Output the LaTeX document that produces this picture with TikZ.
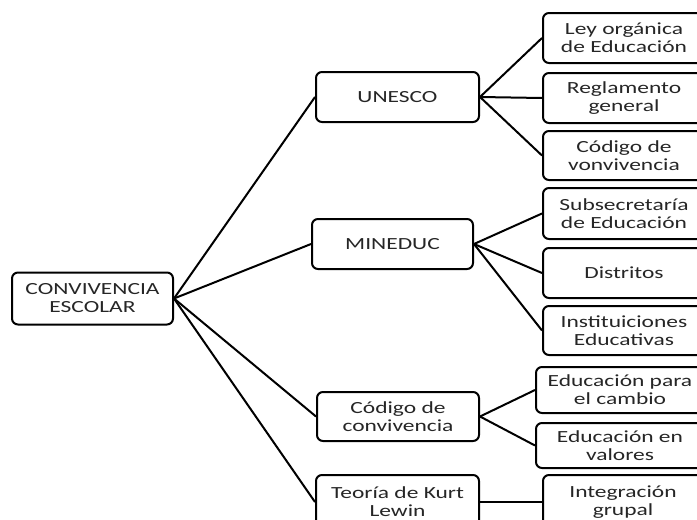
\documentclass[tikz,border=0pt]{standalone}
\usepackage{fontspec}
\setmainfont[FakeStretch=1.38]{Carlito}
\begin{document}
\begin{tikzpicture}[x=1pt,y=-1pt,
  box/.style={draw=black, line width=2pt, rounded corners=6pt, fill=white,
    inner sep=0pt, align=center, text=black!85,
    font=\fontsize{17}{18}\selectfont},
  conn/.style={draw=black, line width=2pt}]
\useasboundingbox (0,0) rectangle (697,520);
\clip (0,0) rectangle (697,520);
\fill[white] (0,0) rectangle (697,520);
% level 1
\node[box, minimum width=161pt, minimum height=52pt] (root) at (92.5,298.5) {CONVIVENCIA\\ESCOLAR};
% level 2
\node[box, minimum width=163pt, minimum height=50pt] (unesco) at (397.5,97) {UNESCO};
\node[box, minimum width=161pt, minimum height=50pt] (mineduc) at (392.5,244) {MINEDUC};
\node[box, minimum width=162pt, minimum height=49pt] (codigo) at (398,416.5) {Código de\\convivencia};
\node[box, minimum width=163pt, minimum height=54pt] (teoria) at (397.5,502) {Teoría de Kurt\\Lewin};
% level 3
\node[box, minimum width=162pt, minimum height=50pt] (ley) at (624,38) {Ley orgánica\\de Educación};
\node[box, minimum width=162pt, minimum height=50pt] (regl) at (624,98) {Reglamento\\general};
\node[box, minimum width=162pt, minimum height=49pt] (codv) at (624,155.5) {Código de\\vonvivencia};
\node[box, minimum width=162pt, minimum height=51pt] (subs) at (624,213.5) {Subsecretaría\\de Educación};
\node[box, minimum width=162pt, minimum height=50pt] (dist) at (624,273) {Distritos};
\node[box, minimum width=162pt, minimum height=49pt] (inst) at (624,330.5) {Instituiciones\\Educativas};
\node[box, minimum width=168pt, minimum height=46pt] (edpc) at (620,390) {Educación para\\el cambio};
\node[box, minimum width=168pt, minimum height=45pt] (edval) at (620,445.5) {Educación en\\valores};
\node[box, minimum width=160pt, minimum height=54pt] (integ) at (623,502) {Integración\\grupal};
% connectors
\draw[conn] (root.east) -- (unesco.west);
\draw[conn] (root.east) -- (mineduc.west);
\draw[conn] (root.east) -- (codigo.west);
\draw[conn] (root.east) -- (teoria.west);
\draw[conn] (unesco.east) -- (ley.west);
\draw[conn] (unesco.east) -- (regl.west);
\draw[conn] (unesco.east) -- (codv.west);
\draw[conn] (mineduc.east) -- (subs.west);
\draw[conn] (mineduc.east) -- (dist.west);
\draw[conn] (mineduc.east) -- (inst.west);
\draw[conn] (codigo.east) -- (edpc.west);
\draw[conn] (codigo.east) -- (edval.west);
\draw[conn] (teoria.east) -- (integ.west);
\end{tikzpicture}
\end{document}
